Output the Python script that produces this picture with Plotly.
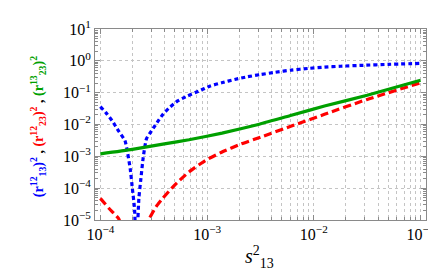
import plotly.graph_objects as go

# log10 of s13^2 and log10 of each curve
blue_lx = [-4.0, -3.95, -3.89, -3.83, -3.77, -3.751, -3.72, -3.70, -3.68, -3.672, -3.662, -3.652, -3.639, -3.62,
           -3.60, -3.568, -3.52, -3.458, -3.413, -3.352, -3.276, -3.184, -3.078, -2.971, -2.864, -2.742, -2.62,
           -2.50, -2.36, -2.21, -2.056, -1.90, -1.75, -1.537, -1.30, -1.0]
blue_ly = [-1.44, -1.62, -1.88, -2.20, -2.50, -2.77, -3.39, -4.01, -4.63, -5.3, -6.0, -5.3, -4.32, -3.70,
           -3.08, -2.45, -2.20, -1.885, -1.676, -1.468, -1.26, -1.105, -0.95, -0.79, -0.69, -0.585, -0.50,
           -0.43, -0.36, -0.29, -0.24, -0.20, -0.17, -0.14, -0.11, -0.08]

red_lx = [-4.0, -3.92, -3.83, -3.79, -3.69, -3.58, -3.54, -3.477, -3.416, -3.306, -3.169, -3.016, -2.864,
          -2.68, -2.50, -2.21, -1.90, -1.507, -1.0]
red_ly = [-4.32, -4.63, -4.95, -5.3, -6.5, -5.3, -4.95, -4.58, -4.32, -3.91, -3.49, -3.13, -2.87,
          -2.61, -2.40, -2.05, -1.68, -1.22, -0.69]

green_lx = [-4.0, -3.70, -3.40, -3.17, -2.86, -2.51, -2.21, -1.90, -1.50, -1.0]
green_ly = [-2.92, -2.78, -2.61, -2.48, -2.27, -1.99, -1.71, -1.42, -1.08, -0.61]

x_ticks = [1e-4, 1e-3, 1e-2, 1e-1]
x_ticktext = ["10<sup>\u22124</sup>", "10<sup>\u22123</sup>", "10<sup>\u22122</sup>", "10<sup>\u22121</sup>"]
y_ticks = [1e-5, 1e-4, 1e-3, 1e-2, 1e-1, 1e0, 1e1]
y_ticktext = ["10<sup>\u22125</sup>", "10<sup>\u22124</sup>", "10<sup>\u22123</sup>", "10<sup>\u22122</sup>",
              "10<sup>\u22121</sup>", "10<sup>0</sup>", "10<sup>1</sup>"]

BLUE = "#0000ff"
RED = "#ff0000"
GREEN = "#00a000"


def p(a):
    return [10 ** v for v in a]


fig = go.Figure()
fig.add_trace(go.Scatter(x=p(blue_lx), y=p(blue_ly), mode="lines",
                         line=dict(color=BLUE, width=3.2, dash="4px,3px", shape="spline", smoothing=0.5)))
fig.add_trace(go.Scatter(x=p(red_lx), y=p(red_ly), mode="lines",
                         line=dict(color=RED, width=3.2, dash="8px,4px", shape="spline", smoothing=0.5)))
fig.add_trace(go.Scatter(x=p(green_lx), y=p(green_ly), mode="lines",
                         line=dict(color=GREEN, width=3.2, shape="spline", smoothing=0.5)))

minor_x = [m * 10 ** d for d in range(-5, 0) for m in range(2, 10)]
minor_y = [m * 10 ** d for d in range(-6, 1) for m in range(2, 10)]

FONT = "Liberation Serif"
GRID = "#c4c4c4"
AX = "#8a8a8a"

fig.update_layout(
    width=436, height=273,
    margin=dict(l=87, r=10, t=19, b=61),
    paper_bgcolor="white", plot_bgcolor="white",
    showlegend=False,
    font=dict(family=FONT, size=16, color="black"),
    xaxis=dict(type="log", range=[-4.05, -0.949], tickmode="array", tickvals=x_ticks, ticktext=x_ticktext,
               ticks="inside", ticklen=5, tickcolor=AX, showline=True, linecolor=AX, linewidth=1, mirror="ticks",
               showgrid=True, gridcolor=GRID, griddash="dot", gridwidth=1, zeroline=False,
               tickfont=dict(family=FONT, size=16),
               minor=dict(tickmode="array", tickvals=minor_x, ticks="inside", ticklen=3, tickcolor=AX,
                          showgrid=True, gridcolor=GRID, griddash="dot", gridwidth=1)),
    yaxis=dict(type="log", range=[-5, 1], tickmode="array", tickvals=y_ticks, ticktext=y_ticktext,
               ticks="inside", ticklen=5, tickcolor=AX, showline=True, linecolor=AX, linewidth=1, mirror="ticks",
               showgrid=True, gridcolor=GRID, griddash="dot", gridwidth=1, zeroline=False,
               tickfont=dict(family=FONT, size=16),
               minor=dict(tickmode="array", tickvals=minor_y, ticks="inside", ticklen=3, tickcolor=AX,
                          showgrid=False)),
)

ytitle = ("<b><span style='color:%s'>(r<sup>12</sup><sub>13</sub>)<sup>2</sup></span>"
          "<span style='color:black'> , </span>"
          "<span style='color:%s'>(r<sup>12</sup><sub>23</sub>)<sup>2</sup></span>"
          "<span style='color:black'> , </span>"
          "<span style='color:%s'>(r<sup>13</sup><sub>23</sub>)<sup>2</sup></span></b>") % (BLUE, RED, GREEN)

fig.add_annotation(text=ytitle, xref="paper", yref="paper", x=-0.17, y=0.49, xanchor="center", yanchor="middle",
                   textangle=-90, showarrow=False, font=dict(family=FONT, size=14))
fig.add_annotation(text="<i>s</i><sup>2</sup><sub>13</sub>", xref="paper", yref="paper", x=0.496, y=-0.108,
                   xanchor="center", yanchor="top", showarrow=False, font=dict(family=FONT, size=20))

fig.write_html("out.html")
